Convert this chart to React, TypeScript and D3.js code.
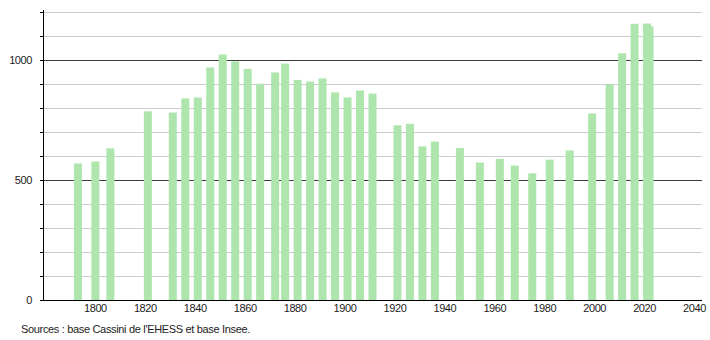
import React from "react";
import * as d3 from "d3";

const years = [1793, 1800, 1806, 1821, 1831, 1836, 1841, 1846, 1851, 1856, 1861, 1866, 1872, 1876, 1881, 1886, 1891, 1896, 1901, 1906, 1911, 1921, 1926, 1931, 1936, 1946, 1954, 1962, 1968, 1975, 1982, 1990, 1999, 2006, 2011, 2016, 2021, 2022];
const population = [569, 577, 632, 786, 781, 840, 844, 969, 1023, 994, 963, 901, 948, 985, 917, 910, 923, 865, 844, 873, 860, 728, 734, 640, 660, 633, 573, 588, 560, 528, 585, 623, 777, 899, 1028, 1151, 1152, 1140];
const xTicks = [1800, 1820, 1840, 1860, 1880, 1900, 1920, 1940, 1960, 1980, 2000, 2020, 2040];
const yLabels = [0, 500, 1000];
const yGrid = [100, 200, 300, 400, 500, 600, 700, 800, 900, 1000, 1100, 1200];
const source = "Sources : base Cassini de l'EHESS et base Insee.";

const W = 710;
const H = 340;
const left = 43;
const right = 702;

export default function App() {
  const x = d3.scaleLinear().domain([1779, 2043]).range([left, right]);
  const y = d3.scaleLinear().domain([0, 1200]).range([300, 12]);
  const barW = 8;
  const font = "'Liberation Sans', Arial, sans-serif";
  return (
    <svg width={W} height={H} style={{ position: "absolute", left: 0, top: 0, background: "#fff" }}>
      {yGrid.map((v) => (
        <line
          key={"g" + v}
          x1={left}
          x2={right}
          y1={Math.round(y(v)) + 0.5}
          y2={Math.round(y(v)) + 0.5}
          stroke={v % 500 === 0 ? "#3a3a3a" : "#cccccc"}
          strokeWidth={1}
        />
      ))}
      {years.map((yr, i) => (
        <rect
          key={"b" + yr}
          x={x(yr) - barW / 2}
          y={y(population[i])}
          width={barW}
          height={y(0) - y(population[i])}
          fill="#ade5ad"
        />
      ))}
      {yGrid.map((v) => (
        <line
          key={"t" + v}
          x1={left - 3}
          x2={left}
          y1={Math.round(y(v)) + 0.5}
          y2={Math.round(y(v)) + 0.5}
          stroke="#000"
        />
      ))}
      <line x1={left + 0.5} x2={left + 0.5} y1={10} y2={300} stroke="#000" />
      <line x1={40} x2={right} y1={300.5} y2={300.5} stroke="#000" />
      {yLabels.map((v) => (
        <text
          key={"yl" + v}
          x={32}
          y={y(v) + 4}
          textAnchor="end"
          fontFamily={font}
          fontSize={11}
          letterSpacing={-0.4}
          fill="#222"
        >
          {v}
        </text>
      ))}
      {xTicks.map((t) => (
        <text
          key={"xl" + t}
          x={x(t)}
          y={312}
          textAnchor="middle"
          fontFamily={font}
          fontSize={11}
          letterSpacing={-0.4}
          fill="#222"
        >
          {t}
        </text>
      ))}
      <text x={21} y={333} fontFamily={font} fontSize={11} letterSpacing={-0.33} fill="#222">
        {source}
      </text>
    </svg>
  );
}
